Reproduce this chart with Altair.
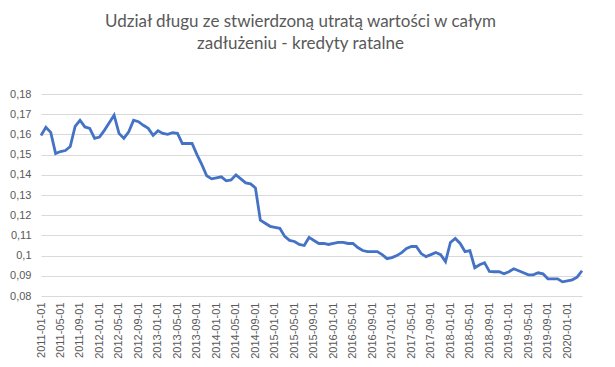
import altair as alt
import pandas as pd

dates = pd.date_range("2011-01-01", periods=112, freq="MS").strftime("%Y-%m-%d").tolist()

values = [
    0.1595, 0.1635, 0.161, 0.1505, 0.1515, 0.152, 0.154, 0.164, 0.167, 0.1637,
    0.163, 0.158, 0.1587, 0.162, 0.1658, 0.1695, 0.1605, 0.158, 0.1613, 0.167,
    0.1663, 0.1645, 0.163, 0.1595, 0.1618, 0.1605, 0.160, 0.1608, 0.1605, 0.1555,
    0.1555, 0.1555, 0.150, 0.145, 0.1395, 0.138, 0.1385, 0.139, 0.137, 0.1375,
    0.140, 0.138, 0.136, 0.1355, 0.1335, 0.1175, 0.116, 0.1145, 0.114, 0.1135,
    0.1095, 0.1075, 0.107, 0.1055, 0.105, 0.109, 0.1075, 0.106, 0.106, 0.1055,
    0.106, 0.1065, 0.1065, 0.106, 0.106, 0.104, 0.1025, 0.102, 0.102, 0.102,
    0.1005, 0.0985, 0.099, 0.100, 0.1015, 0.1035, 0.1045, 0.1045, 0.101, 0.0995,
    0.1005, 0.1015, 0.1005, 0.097, 0.1065, 0.1085, 0.106, 0.102, 0.1025, 0.094,
    0.0955, 0.0965, 0.0922, 0.092, 0.092, 0.091, 0.092, 0.0935, 0.0925, 0.0915,
    0.0905, 0.0905, 0.0915, 0.091, 0.0885, 0.0885, 0.0885, 0.087, 0.0875, 0.088,
    0.0893, 0.0925,
]

x_tick_labels = dates[::4]
y_ticks = [0.08, 0.09, 0.10, 0.11, 0.12, 0.13, 0.14, 0.15, 0.16, 0.17, 0.18]

title_lines = ["Udział długu ze stwierdzoną utratą wartości w całym",
               "zadłużeniu - kredyty ratalne"]

df = pd.DataFrame({"date": dates, "value": values})

grey = "#595959"

chart = alt.Chart(df).mark_line(color="#4472C4", strokeWidth=2.8).encode(
    x=alt.X("date:O", sort=None,
            scale=alt.Scale(type="point", padding=0),
            axis=alt.Axis(title=None, values=x_tick_labels, labelAngle=-90,
                          ticks=False, domain=False, grid=False,
                          labelPadding=6, labelFont="Liberation Sans",
                          labelFontSize=11, labelColor=grey)),
    y=alt.Y("value:Q",
            scale=alt.Scale(domain=[0.08, 0.18], nice=False, zero=False),
            axis=alt.Axis(title=None, values=y_ticks, ticks=False, domain=False,
                          gridColor="#d9d9d9", gridWidth=1,
                          labelPadding=10, labelFont="Liberation Sans",
                          labelFontSize=11, labelColor=grey,
                          labelExpr="replace(format(datum.value, '.2~f'), '.', ',')")),
).properties(
    width=541,
    height=202,
    autosize=alt.AutoSizeParams(type="none"),
    padding={"left": 33, "top": 86, "right": 25, "bottom": 72},
    title=alt.TitleParams(text=title_lines, font="Lato", fontSize=17,
                          fontWeight="normal", color=grey, anchor="middle",
                          lineHeight=22, offset=35, dx=-11),
).configure_view(stroke=None)

chart.save("out.html", embed_options={"renderer": "svg", "actions": False})
